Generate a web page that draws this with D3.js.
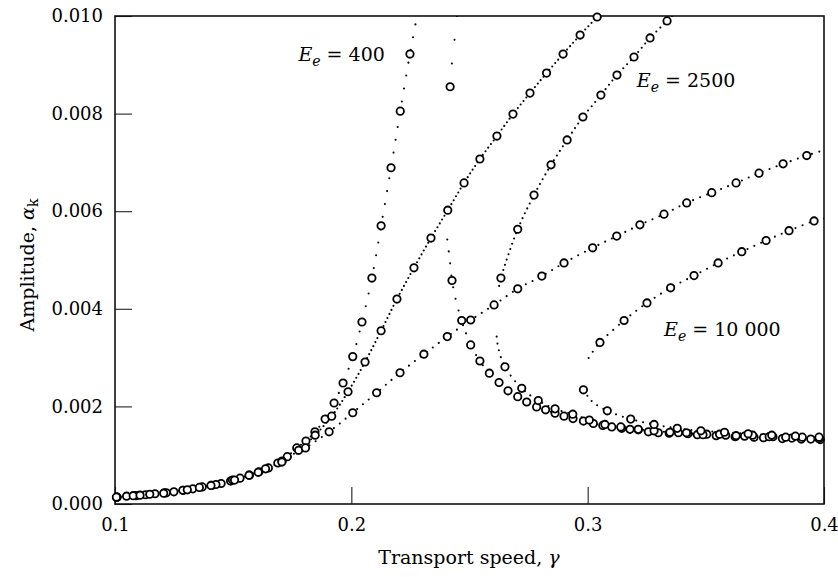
<!DOCTYPE html>
<html>
<head>
<meta charset="utf-8">
<script src="https://cdn.jsdelivr.net/npm/d3@7"></script>
<style>
  body { margin: 0; background: #fff; }
  text { font-family: "DejaVu Serif", serif; fill: #000; }
</style>
</head>
<body>
<div id="chart"></div>
<script>
// ---- data (x = transport speed, y = amplitude) ----

// E_e = 400, rising branch (simulation circles)
const e400RiseX = [0.1009,0.1049,0.1089,0.1129,0.1169,0.1209,0.1249,0.1289,0.1329,0.1369,0.1409,0.1449,0.1489,0.1529,0.1569,0.1609,0.1649,0.1689,0.1729,0.1769,0.1808,0.1846,0.1889,0.1927,0.1965,0.2006,0.2045,0.2087,0.2126,0.2168,0.2207,0.2248];
const e400RiseY = [0.00014,0.00016,0.00017,0.00019,0.00021,0.00023,0.00025,0.00028,0.00031,0.00035,0.00038,0.00042,0.00047,0.00053,0.00059,0.00066,0.00074,0.00084,0.00097,0.00115,0.00129,0.00148,0.00174,0.00207,0.00248,0.00302,0.00373,0.00463,0.00570,0.00689,0.00805,0.00922];
// analytic curve continues up to the frame
const e400RiseEndX = [0.2269,0.2274];
const e400RiseEndY = [0.00977,0.00990];

// E_e = 400, falling branch: upper dotted piece, then lower piece
const e400TopX = [0.2447,0.2439,0.2427,0.2418];
const e400TopY = [0.01000,0.00961,0.00911,0.00855];
const e400LowX = [0.2406,0.2418,0.2426,0.2436,0.2446,0.2467];
const e400LowY = [0.00542,0.00494,0.00458,0.00432,0.00410,0.00376];
const e400FallX = [0.2418,0.2426,0.2467,0.2505,0.2544,0.2584,0.2625,0.2663,0.2704,0.2742,0.2784,0.2822,0.2862,0.2900,0.2938,0.2982,0.3024,0.3064,0.3102,0.3144,0.3179,0.3214,0.3257,0.3299,0.3345,0.3384,0.3424,0.3464,0.3504,0.3544,0.3584,0.3624,0.3664,0.3704,0.3744,0.3784,0.3824,0.3864,0.3904,0.3944,0.3984];
const e400FallY = [0.00855,0.00458,0.00376,0.00326,0.00293,0.00268,0.00249,0.00232,0.00220,0.00209,0.00199,0.00193,0.00186,0.00180,0.00175,0.00170,0.00165,0.00161,0.00158,0.00155,0.00153,0.00152,0.00148,0.00146,0.00145,0.00146,0.00144,0.00142,0.00143,0.00140,0.00141,0.00138,0.00139,0.00137,0.00136,0.00138,0.00134,0.00135,0.00133,0.00133,0.00132];

// E_e = 2500, rising branch
const e2500RiseX = [0.1007,0.1077,0.1147,0.1217,0.1287,0.1357,0.1427,0.1497,0.1567,0.1637,0.1707,0.1777,0.1847,0.1917,0.1986,0.2058,0.2126,0.2193,0.2265,0.2337,0.2408,0.2477,0.2544,0.2616,0.2684,0.2756,0.2826,0.2896,0.2968,0.3040];
const e2500RiseY = [0.00014,0.00017,0.00020,0.00023,0.00028,0.00034,0.00040,0.00049,0.00059,0.00072,0.00088,0.00110,0.00141,0.00180,0.00230,0.00291,0.00355,0.00420,0.00484,0.00545,0.00602,0.00658,0.00707,0.00754,0.00799,0.00842,0.00883,0.00922,0.00961,0.00998];

// E_e = 2500, right branch (upper part down to the fold, then lower part)
const e2500UpX = [0.3357,0.3336,0.3264,0.3196,0.3124,0.3056,0.2980,0.2913,0.2845,0.2773,0.2704,0.2633,0.2623];
const e2500UpY = [0.01000,0.00990,0.00955,0.00916,0.00879,0.00838,0.00793,0.00746,0.00695,0.00633,0.00563,0.00463,0.00440];
const e2500DownX = [0.2615,0.2622,0.2650,0.2721,0.2791,0.2862,0.2937,0.3007,0.3073,0.3140,0.3214,0.3281,0.3348,0.3418,0.3488,0.3558,0.3628,0.3698,0.3768,0.3838,0.3908,0.3978];
const e2500DownY = [0.00343,0.00319,0.00281,0.00237,0.00212,0.00195,0.00184,0.00172,0.00163,0.00158,0.00153,0.00150,0.00147,0.00146,0.00142,0.00143,0.00140,0.00141,0.00138,0.00137,0.00137,0.00134];

// E_e = 10 000, rising branch
const e10kRiseX = [0.1006,0.1106,0.1206,0.1306,0.1406,0.1506,0.1606,0.1706,0.1806,0.1906,0.2006,0.2107,0.2206,0.2307,0.2406,0.2505,0.2604,0.2704,0.2806,0.2900,0.3021,0.3123,0.3221,0.3323,0.3419,0.3525,0.3628,0.3725,0.3827,0.3927];
const e10kRiseY = [0.00014,0.00018,0.00022,0.00029,0.00038,0.00049,0.00065,0.00086,0.00115,0.00148,0.00187,0.00228,0.00269,0.00307,0.00343,0.00377,0.00408,0.00441,0.00467,0.00494,0.00525,0.00549,0.00572,0.00594,0.00617,0.00638,0.00658,0.00678,0.00697,0.00714];
const e10kRiseEndX = [0.4000];
const e10kRiseEndY = [0.00725];

// E_e = 10 000, right branch
const e10kUpX = [0.4000,0.3958,0.3852,0.3755,0.3652,0.3552,0.3450,0.3351,0.3251,0.3154,0.3052,0.3031,0.3014,0.2993];
const e10kUpY = [0.00585,0.00580,0.00560,0.00540,0.00517,0.00494,0.00468,0.00443,0.00412,0.00376,0.00331,0.00318,0.00307,0.00290];
const e10kDownX = [0.2982,0.3003,0.3024,0.3083,0.3182,0.3281,0.3379,0.3479,0.3579,0.3679,0.3779,0.3879,0.3979];
const e10kDownY = [0.00234,0.00219,0.00208,0.00191,0.00174,0.00163,0.00155,0.00150,0.00147,0.00144,0.00141,0.00139,0.00137];

const xTicks = [0.1,0.2,0.3,0.4];
const yTicks = [0.000,0.002,0.004,0.006,0.008,0.010];

// ---- layout ----
const W = 838, H = 577;
const mLeft = 115, mRight = 824, mTop = 16, mBottom = 504;

const zip = (xs, ys) => xs.map((d, i) => [d, ys[i]]);
// circles shown by the figure (drop the pure line points)
const circleSets = [
  zip(e400RiseX, e400RiseY),
  zip(e400FallX, e400FallY),
  zip(e2500RiseX, e2500RiseY),
  zip(e2500UpX.slice(1, 12), e2500UpY.slice(1, 12)),
  zip([e2500DownX[2]].concat(e2500DownX.slice(3)), [e2500DownY[2]].concat(e2500DownY.slice(3))),
  zip(e10kRiseX, e10kRiseY),
  zip(e10kUpX.slice(1, 11), e10kUpY.slice(1, 11)),
  zip([e10kDownX[0]].concat(e10kDownX.slice(3)), [e10kDownY[0]].concat(e10kDownY.slice(3)))
];
// dotted analytic curves, with their dot spacing
const lineSets = [
  {pts: zip(e400RiseX.concat(e400RiseEndX), e400RiseY.concat(e400RiseEndY)), gap: 13},
  {pts: zip(e400TopX, e400TopY), gap: 24},
  {pts: zip(e400LowX.concat(e400FallX.slice(3)), e400LowY.concat(e400FallY.slice(3))), gap: 12},
  {pts: zip(e2500RiseX, e2500RiseY), gap: 4.5},
  {pts: zip(e2500UpX, e2500UpY), gap: 5.5},
  {pts: zip(e2500DownX, e2500DownY), gap: 7},
  {pts: zip(e10kRiseX.concat(e10kRiseEndX), e10kRiseY.concat(e10kRiseEndY)), gap: 7.5},
  {pts: zip(e10kUpX, e10kUpY), gap: 7.5},
  {pts: zip(e10kDownX, e10kDownY), gap: 7}
];

const svg = d3.select("#chart").append("svg")
  .attr("width", W).attr("height", H);

const x = d3.scaleLinear().domain([0.1, 0.4]).range([mLeft, mRight]);
const y = d3.scaleLinear().domain([0, 0.010]).range([mBottom, mTop]);

svg.append("clipPath").attr("id", "plotclip")
  .append("rect")
  .attr("x", mLeft).attr("y", mTop)
  .attr("width", mRight - mLeft).attr("height", mBottom - mTop);

// axes with inward ticks
const yAxis = svg.append("g")
  .attr("transform", "translate(" + mLeft + ",0)")
  .call(d3.axisLeft(y).tickValues(yTicks).tickSize(-17).tickPadding(12).tickFormat(d3.format(".3f")));
const xAxis = svg.append("g")
  .attr("transform", "translate(0," + mBottom + ")")
  .call(d3.axisBottom(x).tickValues(xTicks).tickSize(-17).tickPadding(14).tickFormat(d3.format(".1f")));
[yAxis, xAxis].forEach(g => {
  g.select(".domain").remove();
  g.selectAll(".tick line").attr("stroke", "#222").attr("stroke-width", 1.1);
  g.selectAll("text")
    .style("font-size", "18px")
    .attr("fill", "#000");
});

// frame
svg.append("rect")
  .attr("x", mLeft).attr("y", mTop)
  .attr("width", mRight - mLeft).attr("height", mBottom - mTop)
  .attr("fill", "none").attr("stroke", "#111").attr("stroke-width", 1.6);

// dotted curves
const line = d3.line().x(d => x(d[0])).y(d => y(d[1])).curve(d3.curveCatmullRom.alpha(0.5));
svg.append("g").attr("clip-path", "url(#plotclip)")
  .selectAll("path").data(lineSets).join("path")
  .attr("d", d => line(d.pts))
  .attr("fill", "none")
  .attr("stroke", "#000")
  .attr("stroke-width", 2.1)
  .attr("stroke-linecap", "round")
  .attr("stroke-dasharray", d => "0," + d.gap);

// simulation circles
svg.append("g")
  .selectAll("g").data(circleSets).join("g")
  .selectAll("circle").data(d => d).join("circle")
  .attr("cx", d => x(d[0]))
  .attr("cy", d => y(d[1]))
  .attr("r", 3.7)
  .attr("fill", "#fff")
  .attr("stroke", "#000")
  .attr("stroke-width", 1.8);

// curve labels
function eLabel(px, py, value) {
  const t = svg.append("text").attr("x", px).attr("y", py).style("font-size", "19px");
  t.append("tspan").style("font-style", "italic").text("E");
  t.append("tspan").style("font-style", "italic").style("font-size", "14px").attr("dy", 5).text("e");
  t.append("tspan").attr("dy", -5).text(" = " + value);
}
eLabel(x(0.1776), y(0.00907), "400");
eLabel(x(0.3208), y(0.00854), "2500");
eLabel(x(0.3323), y(0.00344), "10 000");

// axis titles
const xt = svg.append("text")
  .attr("x", 469).attr("y", 564)
  .attr("text-anchor", "middle")
  .style("font-size", "19px");
xt.append("tspan").text("Transport speed, ");
xt.append("tspan").style("font-style", "italic").text("γ");

const yt = svg.append("text")
  .attr("transform", "translate(34,265) rotate(-90)")
  .attr("text-anchor", "middle")
  .style("font-size", "19px");
yt.append("tspan").text("Amplitude, ");
yt.append("tspan").style("font-style", "italic").text("α");
yt.append("tspan").style("font-size", "14px").attr("dy", 4).text("k");
</script>
</body>
</html>
